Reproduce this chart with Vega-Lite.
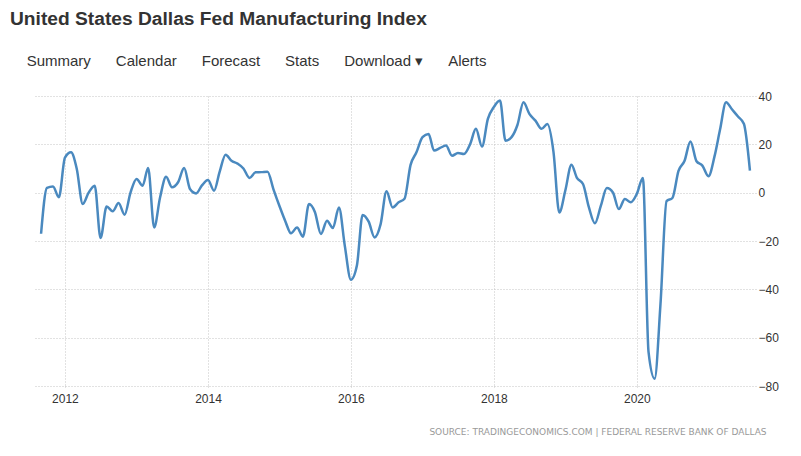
{
  "$schema": "https://vega.github.io/schema/vega-lite/v6.json",
  "autosize": {"type": "none"},
  "width": 721,
  "height": 290,
  "padding": {"left": 35, "top": 96, "right": 45, "bottom": 70},
  "background": "white",
  "title": {
    "text": "United States Dallas Fed Manufacturing Index",
    "subtitle": "\u200B\u00a0\u00a0\u00a0\u00a0Summary\u00a0\u00a0\u00a0\u00a0\u00a0\u00a0Calendar\u00a0\u00a0\u00a0\u00a0\u00a0\u00a0Forecast\u00a0\u00a0\u00a0\u00a0\u00a0\u00a0Stats\u00a0\u00a0\u00a0\u00a0\u00a0\u00a0Download \u25BE\u00a0\u00a0\u00a0\u00a0\u00a0\u00a0Alerts",
    "anchor": "start",
    "frame": "group",
    "dx": -25,
    "font": "Liberation Sans",
    "fontSize": 19.2,
    "fontWeight": "bold",
    "color": "#333333",
    "subtitleFont": "Liberation Sans",
    "subtitleFontSize": 15,
    "subtitleColor": "#333333",
    "subtitlePadding": 25,
    "offset": 21
  },
  "data": {
    "values": [
      {"date": "2011-09-01", "value": -17},
      {"date": "2011-10-01", "value": 2},
      {"date": "2011-11-01", "value": 2.6},
      {"date": "2011-12-01", "value": -1.9},
      {"date": "2012-01-01", "value": 14.5},
      {"date": "2012-02-01", "value": 16.7},
      {"date": "2012-03-01", "value": 10},
      {"date": "2012-04-01", "value": -4.7},
      {"date": "2012-05-01", "value": 0},
      {"date": "2012-06-01", "value": 2.9},
      {"date": "2012-07-01", "value": -18.8},
      {"date": "2012-08-01", "value": -5.7},
      {"date": "2012-09-01", "value": -7.7},
      {"date": "2012-10-01", "value": -4.3},
      {"date": "2012-11-01", "value": -9.1},
      {"date": "2012-12-01", "value": 0},
      {"date": "2013-01-01", "value": 5.7},
      {"date": "2013-02-01", "value": 2.9},
      {"date": "2013-03-01", "value": 10.2},
      {"date": "2013-04-01", "value": -14.4},
      {"date": "2013-05-01", "value": -2},
      {"date": "2013-06-01", "value": 6.6},
      {"date": "2013-07-01", "value": 2.2},
      {"date": "2013-08-01", "value": 4.3},
      {"date": "2013-09-01", "value": 10.2},
      {"date": "2013-10-01", "value": 1.5},
      {"date": "2013-11-01", "value": -0.3},
      {"date": "2013-12-01", "value": 3},
      {"date": "2014-01-01", "value": 5.2},
      {"date": "2014-02-01", "value": 0.8},
      {"date": "2014-03-01", "value": 8.5},
      {"date": "2014-04-01", "value": 15.7},
      {"date": "2014-05-01", "value": 13.2},
      {"date": "2014-06-01", "value": 12},
      {"date": "2014-07-01", "value": 10},
      {"date": "2014-08-01", "value": 6.1},
      {"date": "2014-09-01", "value": 8.4},
      {"date": "2014-10-01", "value": 8.5},
      {"date": "2014-11-01", "value": 8.7},
      {"date": "2014-12-01", "value": 1.5},
      {"date": "2015-01-01", "value": -5.5},
      {"date": "2015-02-01", "value": -12},
      {"date": "2015-03-01", "value": -16.8},
      {"date": "2015-04-01", "value": -14.4},
      {"date": "2015-05-01", "value": -18.2},
      {"date": "2015-06-01", "value": -4.7},
      {"date": "2015-07-01", "value": -8},
      {"date": "2015-08-01", "value": -17.1},
      {"date": "2015-09-01", "value": -11.6},
      {"date": "2015-10-01", "value": -14.6},
      {"date": "2015-11-01", "value": -6.1},
      {"date": "2015-12-01", "value": -22},
      {"date": "2016-01-01", "value": -36},
      {"date": "2016-02-01", "value": -30},
      {"date": "2016-03-01", "value": -9.2},
      {"date": "2016-04-01", "value": -12},
      {"date": "2016-05-01", "value": -18.5},
      {"date": "2016-06-01", "value": -13},
      {"date": "2016-07-01", "value": 0.6},
      {"date": "2016-08-01", "value": -6.1},
      {"date": "2016-09-01", "value": -4},
      {"date": "2016-10-01", "value": -2.5},
      {"date": "2016-11-01", "value": 11.5},
      {"date": "2016-12-01", "value": 16.7},
      {"date": "2017-01-01", "value": 23},
      {"date": "2017-02-01", "value": 24.3},
      {"date": "2017-03-01", "value": 17.4},
      {"date": "2017-04-01", "value": 18.5},
      {"date": "2017-05-01", "value": 19.5},
      {"date": "2017-06-01", "value": 15.3},
      {"date": "2017-07-01", "value": 16.4},
      {"date": "2017-08-01", "value": 16},
      {"date": "2017-09-01", "value": 20},
      {"date": "2017-10-01", "value": 26.4},
      {"date": "2017-11-01", "value": 19.1},
      {"date": "2017-12-01", "value": 30.5},
      {"date": "2018-01-01", "value": 35.5},
      {"date": "2018-02-01", "value": 38.1},
      {"date": "2018-03-01", "value": 21.5},
      {"date": "2018-04-01", "value": 23},
      {"date": "2018-05-01", "value": 28},
      {"date": "2018-06-01", "value": 37.4},
      {"date": "2018-07-01", "value": 32.6},
      {"date": "2018-08-01", "value": 29.8},
      {"date": "2018-09-01", "value": 26.4},
      {"date": "2018-10-01", "value": 28.4},
      {"date": "2018-11-01", "value": 17},
      {"date": "2018-12-01", "value": -8.2},
      {"date": "2019-01-01", "value": 1},
      {"date": "2019-02-01", "value": 11.6},
      {"date": "2019-03-01", "value": 6.1},
      {"date": "2019-04-01", "value": 3.6},
      {"date": "2019-05-01", "value": -6},
      {"date": "2019-06-01", "value": -12.7},
      {"date": "2019-07-01", "value": -5.5},
      {"date": "2019-08-01", "value": 1.9},
      {"date": "2019-09-01", "value": 0.1},
      {"date": "2019-10-01", "value": -6.8},
      {"date": "2019-11-01", "value": -2.6},
      {"date": "2019-12-01", "value": -4},
      {"date": "2020-01-01", "value": -0.5},
      {"date": "2020-02-01", "value": 6.1},
      {"date": "2020-03-01", "value": -66},
      {"date": "2020-04-01", "value": -77},
      {"date": "2020-05-01", "value": -46},
      {"date": "2020-06-01", "value": -3.5},
      {"date": "2020-07-01", "value": -2.2},
      {"date": "2020-08-01", "value": 9},
      {"date": "2020-09-01", "value": 13.2},
      {"date": "2020-10-01", "value": 21.2},
      {"date": "2020-11-01", "value": 13},
      {"date": "2020-12-01", "value": 11.2},
      {"date": "2021-01-01", "value": 6.8},
      {"date": "2021-02-01", "value": 15},
      {"date": "2021-03-01", "value": 26},
      {"date": "2021-04-01", "value": 37.4},
      {"date": "2021-05-01", "value": 34.5},
      {"date": "2021-06-01", "value": 31.5},
      {"date": "2021-07-01", "value": 28.5},
      {"date": "2021-08-01", "value": 9.1}
    ]
  },
  "mark": {"type": "line", "interpolate": "monotone", "color": "#4a89bf", "strokeWidth": 2.5},
  "encoding": {
    "x": {
      "field": "date",
      "type": "temporal",
      "scale": {
        "type": "utc",
        "domain": [
          {"year": 2011, "month": 8, "date": 1, "utc": true},
          {"year": 2021, "month": 9, "date": 1, "utc": true}
        ]
      },
      "axis": {
        "values": [
          {"year": 2012, "month": 1, "date": 1, "utc": true},
          {"year": 2014, "month": 1, "date": 1, "utc": true},
          {"year": 2016, "month": 1, "date": 1, "utc": true},
          {"year": 2018, "month": 1, "date": 1, "utc": true},
          {"year": 2020, "month": 1, "date": 1, "utc": true}
        ],
        "format": "%Y",
        "formatType": "utc",
        "grid": true,
        "gridColor": "#c4c4c4",
        "gridDash": [1, 2],
        "domain": false,
        "ticks": true,
        "tickSize": 3,
        "tickColor": "#c4c4c4",
        "tickDash": [1, 2],
        "labelFont": "Liberation Sans",
        "labelFontSize": 12,
        "labelColor": "#333333",
        "labelPadding": 4,
        "title": "SOURCE: TRADINGECONOMICS.COM  |  FEDERAL RESERVE BANK OF DALLAS",
        "titleFont": "DejaVu Sans",
        "titleFontSize": 9,
        "titleFontWeight": "normal",
        "titleColor": "#999999",
        "titleAnchor": "end",
        "titleAlign": "right",
        "titleBaseline": "middle",
        "titleX": 731,
        "titleY": 45
      }
    },
    "y": {
      "field": "value",
      "type": "quantitative",
      "scale": {"domain": [-80, 40], "nice": false, "zero": false},
      "axis": {
        "orient": "right",
        "values": [-80, -60, -40, -20, 0, 20, 40],
        "title": null,
        "domain": false,
        "ticks": false,
        "grid": true,
        "gridColor": "#c4c4c4",
        "gridDash": [1, 2],
        "labelFont": "Liberation Sans",
        "labelFontSize": 12,
        "labelColor": "#333333",
        "labelPadding": 2
      }
    }
  },
  "config": {"view": {"stroke": null}}
}
